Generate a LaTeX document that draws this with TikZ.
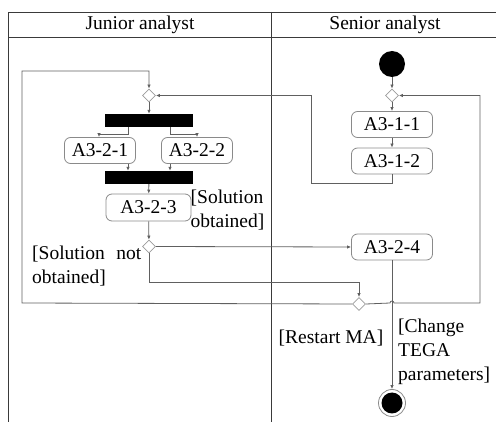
\documentclass[tikz,border=0pt]{standalone}
\usepackage{fontspec}
\setmainfont{Liberation Serif}
\usetikzlibrary{arrows.meta,shapes.geometric}
\definecolor{lanec}{HTML}{3A3A3A}
\definecolor{linec}{HTML}{606060}
\definecolor{boxc}{HTML}{8A8A8A}
\definecolor{diac}{HTML}{9C9C9C}
\begin{document}
\begin{tikzpicture}[x=1pt,y=-1pt,
  txt/.style={font=\fontsize{19.5}{24}\selectfont, inner sep=0pt},
  act/.style={txt, draw=boxc, line width=0.8pt, rounded corners=6pt, minimum height=26pt},
  bar/.style={fill=black, draw=none, minimum width=88pt, minimum height=13pt, inner sep=0pt},
  dia/.style={diamond, draw=diac, fill=white, line width=0.8pt, minimum width=13pt, minimum height=13pt, inner sep=0pt, aspect=1},
  conn/.style={draw=linec, line width=0.8pt},
  arr/.style={conn, -{Latex[length=4pt,width=3.5pt]}},
  lane/.style={draw=lanec, line width=0.8pt}
]
\useasboundingbox (0,0) rectangle (496,422);
% swimlanes
\coordinate (tl) at (8,12);
\coordinate (tr) at (496,12);
\coordinate (hl) at (8,37);
\coordinate (hr) at (496,37);
\coordinate (bl) at (8,422);
\coordinate (mt) at (271,12);
\coordinate (mb) at (271,422);
\draw[lane] (tr) -- (tl) -- (bl);
\draw[lane] (hl) -- (hr);
\draw[lane] (mt) -- (mb);
\node[txt] (hj) at (140,25) {Junior analyst};
\node[txt] (hs) at (385,25) {Senior analyst};

% nodes
\node[circle, fill=black, minimum size=26pt, inner sep=0pt] (init) at (392,64) {};
\node[dia] (sd) at (392,95.5) {};
\node[act, minimum width=81pt] (a311) at (392,124.5) {A3-1-1};
\node[act, minimum width=81pt] (a312) at (392,161) {A3-1-2};
\node[dia] (jd) at (149,95.5) {};
\node[bar] (f1) at (149,120.5) {};
\node[act, minimum width=71pt] (a321) at (100,150.5) {A3-2-1};
\node[act, minimum width=71pt] (a322) at (197,150.5) {A3-2-2};
\node[bar] (j1) at (149,177.5) {};
\node[act, minimum width=85pt, minimum height=27pt] (a323) at (148.5,207.5) {A3-2-3};
\node[dia] (jd2) at (149,246.5) {};
\node[act, minimum width=81pt] (a324) at (392,247) {A3-2-4};
\node[dia] (md) at (359,304) {};
\node[circle, draw=boxc, line width=0.8pt, fill=white, minimum size=27pt, inner sep=0pt] (fin) at (392,403) {};
\node[circle, fill=black, minimum size=21pt, inner sep=0pt] (finin) at (392,403) {};

% labels
\node[txt, align=left] (lso) at (227.5,210) {[Solution\\obtained]};
\node[txt, align=left, anchor=west] (lsno) at (32,266.5) {\hbox to 109pt{[Solution\hfill not}\\obtained]};
\node[txt] (lrm) at (331,338) {[Restart MA]};
\node[txt, align=left, anchor=west] (lct) at (398,352) {[Change\\TEGA\\parameters]};

% coordinates for routing
\coordinate (c1) at (311,183);
\coordinate (c2) at (311,95.5);
\coordinate (c3) at (22,303);
\coordinate (c4) at (22,71);
\coordinate (c5) at (149,71);
\coordinate (c6) at (480,303);
\coordinate (c7) at (480,95.5);
\coordinate (c8) at (149,282);
\coordinate (h1) at (390,303);
\coordinate (h2) at (394,303);

% connectors
\draw[arr] (init) -- (sd);
\draw[arr] (sd) -- (a311);
\draw[arr] (a311) -- (a312);
\draw[arr] (a312.south) |- (c1) -- (c2) -- (jd.east);
\draw[arr] (jd) -- (f1);
\draw[arr] ([xshift=-21pt]f1.south) -- ++(0,7) -| ([xshift=-1pt]a321.north);
\draw[arr] ([xshift=21pt]f1.south) -- ++(0,7) -| (a322.north);
\draw[arr] ([xshift=28pt]a321.south) -- ([xshift=28pt]a321.south |- j1.north);
\draw[arr] ([xshift=-27pt]a322.south) -- ([xshift=-27pt]a322.south |- j1.north);
\draw[arr] (j1) -- (a323);
\draw[arr] (a323) -- (jd2);
\draw[arr] (jd2.east) -- (a324.west);
\draw[arr] (jd2.south) -- (c8) -| (md.north);
\draw[arr] (md.west) -- (c3) -- (c4) -- (c5) -- (jd.north);
\draw[arr] (md.east) -- (h1) arc[start angle=180, end angle=0, radius=2pt] -- (h2) -- (c6) -- (c7) -- (sd.east);
\draw[arr] (a324.south) -- (fin.north);
\end{tikzpicture}
\end{document}
